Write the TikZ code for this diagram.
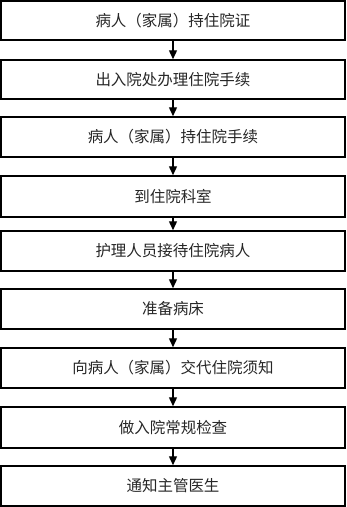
\documentclass[tikz,border=0pt]{standalone}
\usepackage{fontspec}
\newfontfamily\cjk{Noto Sans CJK SC}
\usetikzlibrary{arrows.meta}
\begin{document}
\begin{tikzpicture}[x=1pt,y=-1pt,
  stepbox/.style={draw=black, line width=1.5pt, minimum width=344pt, inner sep=0pt, font=\cjk\fontsize{15.5}{18}\selectfont, text=black!85},
  arr/.style={draw=black, line width=1.4pt, -{Triangle[length=9pt,width=8pt]}}]
\useasboundingbox (0,0) rectangle (347,507);
\node[stepbox, minimum height=39pt] (b1) at (173,20.5) {病人（家属）持住院证};
\node[stepbox, minimum height=39pt] (b2) at (173,79.5) {出入院处办理住院手续};
\node[stepbox, minimum height=40pt] (b3) at (173,137) {病人（家属）持住院手续};
\node[stepbox, minimum height=41pt] (b4) at (173,196.5) {到住院科室};
\node[stepbox, minimum height=40pt] (b5) at (173,251) {护理人员接待住院病人};
\node[stepbox, minimum height=40pt] (b6) at (173,309) {准备病床};
\node[stepbox, minimum height=40pt] (b7) at (173,368) {向病人（家属）交代住院须知};
\node[stepbox, minimum height=41pt] (b8) at (173,427.5) {做入院常规检查};
\node[stepbox, minimum height=40pt] (b9) at (173,486) {通知主管医生};
\draw[arr] (b1.south) -- (b2.north);
\draw[arr] (b2.south) -- (b3.north);
\draw[arr] (b3.south) -- (b4.north);
\draw[arr] (b4.south) -- (b5.north);
\draw[arr] (b5.south) -- (b6.north);
\draw[arr] (b6.south) -- (b7.north);
\draw[arr] (b7.south) -- (b8.north);
\draw[arr] (b8.south) -- (b9.north);
\end{tikzpicture}
\end{document}
